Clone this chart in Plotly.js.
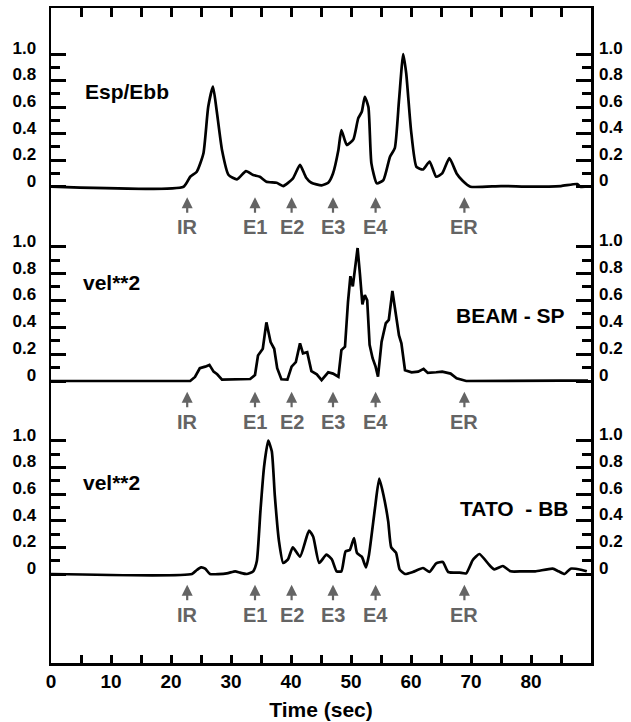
<!DOCTYPE html>
<html><head><meta charset="utf-8">
<script src="https://cdn.plot.ly/plotly-3.0.1.min.js"></script>
<style>html,body{margin:0;padding:0;background:#fff}#chart{width:631px;height:722px}</style>
</head><body><div id="chart"></div>
<script>
// ---- data ----
const timeEsp = [0, 22.1, 23.2, 24.3, 25.4, 26.2, 27.0, 27.6, 28.5, 29.6, 31.0, 32.5, 33.7, 34.8, 35.9, 37.6, 38.7, 40.3, 41.5, 42.5, 43.4, 45.1, 46.2, 47.0, 47.9, 48.4, 49.3, 50.4, 51.2, 51.8, 52.3, 52.9, 53.4, 54.3, 55.4, 56.5, 57.3, 58.0, 58.7, 59.2, 60.0, 60.9, 62.0, 63.1, 64.2, 65.2, 66.4, 67.6, 68.6, 69.9, 75, 80, 85, 87.7, 88.2, 89];
const valEsp  = [0, 0, 0.075, 0.113, 0.25, 0.6, 0.754, 0.578, 0.277, 0.088, 0.055, 0.118, 0.088, 0.075, 0.038, 0.03, 0.005, 0.06, 0.164, 0.07, 0.03, 0.01, 0.03, 0.1, 0.277, 0.427, 0.314, 0.357, 0.515, 0.565, 0.678, 0.6, 0.176, 0.025, 0.05, 0.226, 0.29, 0.65, 1.0, 0.855, 0.427, 0.15, 0.13, 0.19, 0.075, 0.1, 0.215, 0.1, 0.045, 0, 0.005, 0, 0.005, 0.02, 0, 0];

const timeBeam = [0, 23.2, 24.0, 24.8, 25.7, 26.4, 27.1, 27.7, 28.5, 33.2, 34.0, 34.5, 35.3, 35.9, 36.6, 37.2, 37.7, 38.4, 39.4, 40.1, 40.8, 41.5, 42.0, 42.7, 43.4, 44.3, 45.1, 46.2, 47.0, 47.9, 48.4, 49.0, 49.5, 49.9, 50.3, 50.6, 51.1, 51.5, 51.9, 52.3, 52.7, 53.1, 53.6, 54.1, 54.5, 55.1, 55.8, 56.3, 56.9, 57.5, 58.0, 58.4, 59.0, 60.1, 61.2, 62.1, 62.8, 64.2, 65.2, 66.6, 67.6, 69.2, 75, 80, 85, 89.5];
const valBeam  = [0, 0, 0.03, 0.095, 0.107, 0.12, 0.07, 0.05, 0.01, 0.015, 0.045, 0.19, 0.24, 0.437, 0.29, 0.24, 0.095, 0.013, 0.01, 0.107, 0.14, 0.28, 0.206, 0.214, 0.074, 0.05, 0.007, 0.065, 0.055, 0.032, 0.23, 0.255, 0.59, 0.78, 0.705, 0.82, 0.99, 0.79, 0.57, 0.64, 0.6, 0.27, 0.17, 0.107, 0.032, 0.293, 0.43, 0.455, 0.67, 0.49, 0.34, 0.28, 0.08, 0.065, 0.07, 0.09, 0.06, 0.065, 0.07, 0.055, 0.02, 0, 0.003, 0.003, 0.003, 0.003];

const timeTato = [0, 23.5, 24.3, 25.0, 25.7, 26.5, 29.3, 30.7, 31.5, 32.6, 33.7, 34.3, 34.9, 35.5, 36.2, 36.8, 37.3, 38.0, 38.7, 39.5, 40.3, 41.5, 43.0, 43.7, 44.7, 45.9, 46.8, 47.6, 48.4, 49.1, 49.8, 50.5, 51.0, 51.8, 52.5, 53.0, 54.0, 54.7, 55.4, 56.2, 56.7, 57.5, 58.1, 59.0, 60.3, 62.0, 63.1, 64.2, 65.3, 66.2, 68.1, 69.2, 70.3, 71.4, 73.1, 73.9, 75.3, 76.6, 78.6, 80.7, 83.6, 84.6, 85.6, 86.6, 88.5, 89.3];
const valTato  = [0, 0, 0.03, 0.05, 0.04, 0, 0.005, 0.02, 0.01, 0, 0.02, 0.095, 0.47, 0.8, 1.0, 0.92, 0.59, 0.245, 0.083, 0.11, 0.2, 0.13, 0.325, 0.28, 0.083, 0.145, 0.11, 0.02, 0.02, 0.17, 0.18, 0.27, 0.157, 0.13, 0.05, 0.145, 0.495, 0.715, 0.595, 0.395, 0.2, 0.16, 0.035, 0, 0.015, 0.045, 0.015, 0.08, 0.09, 0.015, 0.01, 0.005, 0.105, 0.15, 0.065, 0.035, 0.06, 0.02, 0.02, 0.02, 0.04, 0.02, 0, 0.04, 0.03, 0.02];

const eventNames = ['IR', 'E1', 'E2', 'E3', 'E4', 'ER'];
const eventTimes = [22.7, 34.0, 40.1, 47.0, 54.1, 68.9];

const yTickVals = [0, 0.2, 0.4, 0.6, 0.8, 1.0];
const yTickText = ['0', '0.2', '0.4', '0.6', '0.8', '1.0'];
const yMinorVals = [0.1, 0.3, 0.5, 0.7, 0.9];
const xTickVals = [0, 5, 10, 15, 20, 25, 30, 35, 40, 45, 50, 55, 60, 65, 70, 75, 80, 85];
const xTickText = ['0', '', '10', '', '20', '', '30', '', '40', '', '50', '', '60', '', '70', '', '80', ''];

const leftLabels = ['Esp/Ebb', 'vel**2', 'vel**2'];
const rightLabels = ['', 'BEAM - SP', 'TATO\u00a0 - BB'];
const xTitle = 'Time (sec)';

// ---- layout geometry (pixels) ----
const W = 631, H = 722;
const mL = 51, mR = 40, mT = 8, mB = 59;
const plotT = mT, plotB = H - mB, plotH = H - mT - mB;
const panels = [{zero: 186.7, unit: 132.7}, {zero: 381, unit: 134.3}, {zero: 574, unit: 133.3}];
const bounds = [plotT, 236, 428, plotB];   // contiguous panel edges
function frac(px) { return (plotB - px) / plotH; }
const FF = 'Liberation Sans, Arial, sans-serif';
const gray = '#646464';
const LW = 2.5;

const series = [[timeEsp, valEsp], [timeBeam, valBeam], [timeTato, valTato]];
const yIds = ['y', 'y2', 'y3'];
const xIds = ['x2', 'x', 'x'];
const traces = series.map((s, i) => ({
  x: s[0], y: s[1], type: 'scatter', mode: 'lines',
  xaxis: xIds[i], yaxis: yIds[i],
  line: {color: '#000', width: 2.7, shape: i === 1 ? 'linear' : 'spline', smoothing: 0.5},
  hoverinfo: 'skip', showlegend: false
}));

function yAxis(i) {
  const p = panels[i];
  const top = bounds[i], bot = bounds[i + 1];
  return {
    domain: [Math.max(0, frac(bot)), Math.min(1, frac(top))],
    range: [(p.zero - bot) / p.unit, (p.zero - top) / p.unit],
    tickmode: 'array', tickvals: yTickVals, ticktext: yTickText,
    ticks: 'inside', ticklen: 15, tickwidth: 3, tickcolor: '#000',
    minor: {tickmode: 'array', tickvals: yMinorVals, ticks: 'inside', ticklen: 9, tickwidth: 3, tickcolor: '#000'},
    showline: true, linewidth: LW, linecolor: '#000', mirror: 'ticks',
    showgrid: false, zeroline: false, fixedrange: true,
    tickfont: {family: FF, size: 17, color: '#000', weight: 'bold'},
    ticklabelshift: -6, ticklabelstandoff: 9,
    side: 'left', anchor: xIds[i]
  };
}

const layout = {
  width: W, height: H, margin: {l: mL, r: mR, t: mT, b: mB},
  showlegend: false,
  font: {family: FF, color: '#000'},
  xaxis: {
    range: [0, 90], domain: [0, 1], anchor: 'y3', side: 'bottom',
    tickmode: 'array', tickvals: xTickVals, ticktext: xTickText,
    ticks: 'inside', ticklen: 8, tickwidth: 3, tickcolor: '#000',
    showline: true, linewidth: LW, linecolor: '#000',
    showgrid: false, zeroline: false, fixedrange: true,
    tickfont: {family: FF, size: 19, color: '#000', weight: 'bold'},
    title: {text: xTitle, font: {family: FF, size: 21, color: '#000', weight: 'bold'}, standoff: 11},
    automargin: false
  },
  xaxis2: {
    range: [0, 90], overlaying: 'x', anchor: 'y', side: 'top',
    tickmode: 'array', tickvals: xTickVals.slice(1),
    ticks: 'inside', ticklen: 9, tickwidth: 3, tickcolor: '#000',
    showline: true, linewidth: LW, linecolor: '#000',
    showticklabels: false, showgrid: false, zeroline: false, fixedrange: true
  },
  yaxis: yAxis(0), yaxis2: yAxis(1), yaxis3: yAxis(2),
  annotations: []
};

const leftPos = [[5.3, 0.714], [5.0, 0.73], [5.0, 0.69]];
const rightPos = [[86.0, 0.49], [86.0, 0.49], [86.6, 0.495]];
for (let i = 0; i < 3; i++) {
  const yref = yIds[i], xref = xIds[i];
  // right-hand tick labels
  yTickVals.forEach((v, k) => {
    layout.annotations.push({x: 1, y: v, xref: 'paper', yref: yref, text: yTickText[k],
      showarrow: false, xanchor: 'left', yanchor: 'middle', xshift: 6, yshift: 6,
      font: {family: FF, size: 17, color: '#000', weight: 'bold'}});
  });
  layout.annotations.push({x: leftPos[i][0], y: leftPos[i][1], xref: xref, yref: yref,
    text: leftLabels[i], showarrow: false, xanchor: 'left', yanchor: 'middle',
    font: {family: FF, size: 21, color: '#000', weight: 'bold'}});
  if (rightLabels[i]) layout.annotations.push({x: rightPos[i][0], y: rightPos[i][1], xref: xref, yref: yref,
    text: rightLabels[i], showarrow: false, xanchor: 'right', yanchor: 'middle',
    font: {family: FF, size: 21, color: '#000', weight: 'bold'}});
  eventNames.forEach((nm, k) => {
    layout.annotations.push({x: eventTimes[k], y: -0.08, xref: xref, yref: yref,
      text: nm, showarrow: true, ax: 0, ay: 30, arrowhead: 2, arrowsize: 1.0, arrowwidth: 2.2,
      arrowcolor: gray, startstandoff: 2,
      font: {family: FF, size: 20, color: gray, weight: 'bold'}});
  });
}

Plotly.newPlot('chart', traces, layout, {staticPlot: true, displayModeBar: false});
</script>
</body></html>
